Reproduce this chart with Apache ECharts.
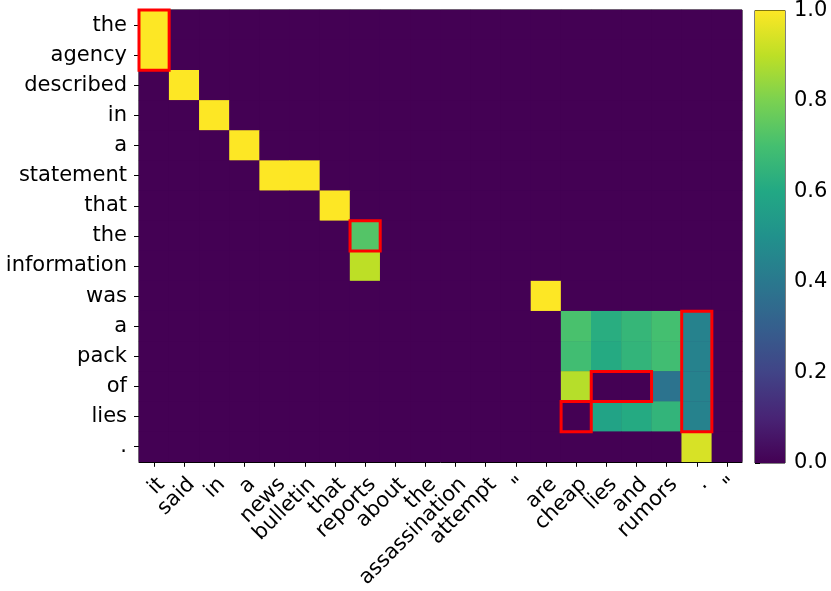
<!DOCTYPE html>
<html>
<head>
<meta charset="utf-8">
<script src="https://cdn.jsdelivr.net/npm/echarts@6/dist/echarts.min.js"></script>
<style>
  html, body { margin: 0; padding: 0; background: #fff; }
  #chart { width: 831px; height: 591px; }
</style>
</head>
<body>
<div id="chart"></div>
<script>
// target words (x) and source words (y)
var xWords = ['it', 'said', 'in', 'a', 'news', 'bulletin', 'that', 'reports', 'about', 'the',
  'assassination', 'attempt', '"', 'are', 'cheap', 'lies', 'and', 'rumors', '.', '"'];
var yWords = ['the', 'agency', 'described', 'in', 'a', 'statement', 'that', 'the', 'information',
  'was', 'a', 'pack', 'of', 'lies', '.'];

// attention weights, one row per y word
var attn = [
  [1, 0, 0, 0, 0, 0, 0, 0, 0, 0, 0, 0, 0, 0, 0, 0, 0, 0, 0, 0],
  [1, 0, 0, 0, 0, 0, 0, 0, 0, 0, 0, 0, 0, 0, 0, 0, 0, 0, 0, 0],
  [0, 1, 0, 0, 0, 0, 0, 0, 0, 0, 0, 0, 0, 0, 0, 0, 0, 0, 0, 0],
  [0, 0, 1, 0, 0, 0, 0, 0, 0, 0, 0, 0, 0, 0, 0, 0, 0, 0, 0, 0],
  [0, 0, 0, 1, 0, 0, 0, 0, 0, 0, 0, 0, 0, 0, 0, 0, 0, 0, 0, 0],
  [0, 0, 0, 0, 1, 1, 0, 0, 0, 0, 0, 0, 0, 0, 0, 0, 0, 0, 0, 0],
  [0, 0, 0, 0, 0, 0, 1, 0, 0, 0, 0, 0, 0, 0, 0, 0, 0, 0, 0, 0],
  [0, 0, 0, 0, 0, 0, 0, 0.73, 0, 0, 0, 0, 0, 0, 0, 0, 0, 0, 0, 0],
  [0, 0, 0, 0, 0, 0, 0, 0.9, 0, 0, 0, 0, 0, 0, 0, 0, 0, 0, 0, 0],
  [0, 0, 0, 0, 0, 0, 0, 0, 0, 0, 0, 0, 0, 1, 0, 0, 0, 0, 0, 0],
  [0, 0, 0, 0, 0, 0, 0, 0, 0, 0, 0, 0, 0, 0, 0.71, 0.62, 0.66, 0.7, 0.44, 0],
  [0, 0, 0, 0, 0, 0, 0, 0, 0, 0, 0, 0, 0, 0, 0.69, 0.61, 0.65, 0.69, 0.44, 0],
  [0, 0, 0, 0, 0, 0, 0, 0, 0, 0, 0, 0, 0, 0, 0.89, 0, 0, 0.38, 0.44, 0],
  [0, 0, 0, 0, 0, 0, 0, 0, 0, 0, 0, 0, 0, 0, 0, 0.58, 0.61, 0.65, 0.44, 0],
  [0, 0, 0, 0, 0, 0, 0, 0, 0, 0, 0, 0, 0, 0, 0, 0, 0, 0, 0.94, 0]
];

// highlighted regions: [firstCol, lastCol, firstRow, lastRow]
var boxes = [
  [0, 0, 0, 1],
  [7, 7, 7, 7],
  [15, 16, 12, 12],
  [14, 14, 13, 13],
  [18, 18, 10, 13]
];

var viridis = ['#440154', '#482475', '#414487', '#355f8d', '#2a788e', '#21918c',
  '#22a884', '#44bf70', '#7ad151', '#bddf26', '#fde725'];

var cells = [];
attn.forEach(function (row, r) {
  row.forEach(function (v, c) { cells.push([c, r, v]); });
});

var font = 'DejaVu Sans';
var tick = { show: true, alignWithLabel: true, length: 5, lineStyle: { color: '#000', width: 1 } };
var chart = echarts.init(document.getElementById('chart'));

chart.setOption({
  animation: false,
  grid: [
    { left: 139, top: 10, width: 603, height: 453, show: true, borderColor: '#000', borderWidth: 1, backgroundColor: viridis[0] },
    { left: 755, top: 10, width: 30, height: 453, show: true, borderColor: '#000', borderWidth: 1 }
  ],
  xAxis: [{
    gridIndex: 0,
    type: 'category',
    data: xWords,
    axisLine: { show: true, lineStyle: { color: '#000', width: 1 } },
    axisTick: tick,
    axisLabel: { rotate: 45, interval: 0, margin: 12, verticalAlign: 'top',
      fontFamily: font, fontSize: 21, color: '#000' },
    splitLine: { show: false }
  }, {
    gridIndex: 1, type: 'value', min: 0, max: 1, show: false
  }],
  yAxis: [{
    gridIndex: 0,
    type: 'category',
    data: yWords,
    inverse: true,
    axisLine: { show: true, lineStyle: { color: '#000', width: 1 } },
    axisTick: tick,
    axisLabel: { interval: 0, margin: 12, fontFamily: font, fontSize: 21, color: '#000' },
    splitLine: { show: false }
  }, {
    gridIndex: 1,
    type: 'value',
    position: 'right',
    min: 0, max: 1, interval: 0.2,
    axisLine: { show: true, lineStyle: { color: '#000', width: 1 } },
    axisTick: { show: true, length: 5, lineStyle: { color: '#000', width: 1 } },
    axisLabel: { margin: 9, fontFamily: font, fontSize: 21, color: '#000',
      formatter: function (v) { return v.toFixed(1); } },
    splitLine: { show: false }
  }],
  visualMap: {
    show: false,
    seriesIndex: 0,
    min: 0, max: 1,
    inRange: { color: viridis }
  },
  series: [{
    type: 'heatmap',
    xAxisIndex: 0, yAxisIndex: 0,
    data: cells,
    itemStyle: { borderWidth: 0 },
    emphasis: { disabled: true }
  }, {
    type: 'custom',
    xAxisIndex: 0, yAxisIndex: 0,
    data: boxes,
    encode: { x: [0, 1], y: [2, 3] },
    renderItem: function (params, api) {
      var a = api.coord([api.value(0), api.value(2)]);
      var size = api.size([1, 1]);
      var w = size[0], h = size[1];
      return {
        type: 'rect',
        shape: {
          x: a[0] - w / 2,
          y: a[1] - h / 2,
          width: (api.value(1) - api.value(0) + 1) * w,
          height: (api.value(3) - api.value(2) + 1) * h
        },
        style: { fill: 'none', stroke: '#ff0000', lineWidth: 3 },
        z2: 10
      };
    },
    z: 5
  }, {
    type: 'custom',
    xAxisIndex: 1, yAxisIndex: 1,
    data: [[0, 0, 1, 1]],
    encode: { x: [0, 2], y: [1, 3] },
    renderItem: function (params, api) {
      var p0 = api.coord([api.value(0), api.value(1)]);
      var p1 = api.coord([api.value(2), api.value(3)]);
      var stops = viridis.map(function (c, i) {
        return { offset: i / (viridis.length - 1), color: c };
      });
      return {
        type: 'rect',
        shape: { x: p0[0], y: p1[1], width: p1[0] - p0[0], height: p0[1] - p1[1] },
        style: { fill: new echarts.graphic.LinearGradient(0, 1, 0, 0, stops) }
      };
    }
  }]
});
</script>
</body>
</html>
